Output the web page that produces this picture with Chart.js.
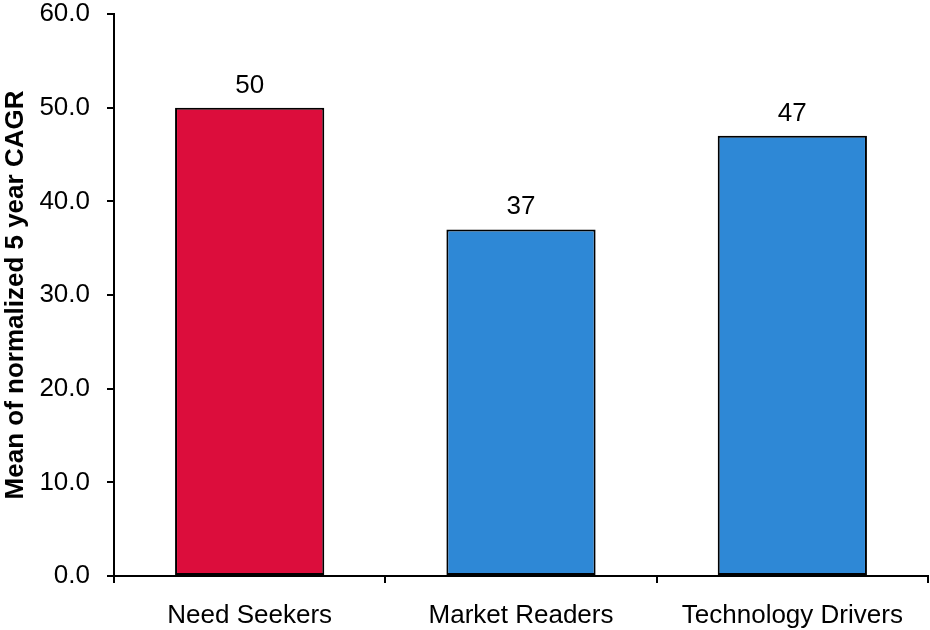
<!DOCTYPE html>
<html lang="en">
<head>
  <meta charset="UTF-8" />
  <title>Mean of normalized 5 year CAGR</title>
  <style>
    html, body {
      margin: 0;
      padding: 0;
      background: #fff;
    }
    .wrap {
      width: 930px;
      height: 630px;
    }
  </style>
</head>
<body>
  <div class="wrap">
    <canvas id="cagrChart" width="930" height="630"></canvas>
  </div>

  <script src="https://cdn.jsdelivr.net/npm/chart.js"></script>
  <script>
    const categories = ['Need Seekers', 'Market Readers', 'Technology Drivers'];
    const cagrMeans = [50, 37, 47];
    const barColors = ['#DC0D3C', '#2E88D6', '#2E88D6'];
    const yTicks = [0, 10, 20, 30, 40, 50, 60];

    // value labels above each bar
    const valueLabels = {
      id: 'valueLabels',
      afterDatasetsDraw(chart) {
        const ctx = chart.ctx;
        const meta = chart.getDatasetMeta(0);
        ctx.save();
        ctx.font = '26px "Liberation Sans", Arial, sans-serif';
        ctx.fillStyle = '#000';
        ctx.textAlign = 'center';
        ctx.textBaseline = 'alphabetic';
        meta.data.forEach((bar, i) => {
          ctx.fillText(String(cagrMeans[i]), bar.x, bar.y - 15);
        });
        ctx.restore();
      }
    };

    Chart.defaults.font.family = '"Liberation Sans", Arial, sans-serif';
    Chart.defaults.color = '#000';

    new Chart(document.getElementById('cagrChart').getContext('2d'), {
      type: 'bar',
      data: {
        labels: categories,
        datasets: [{
          data: cagrMeans,
          backgroundColor: barColors,
          borderColor: '#000',
          borderWidth: 2,
          borderSkipped: false,
          categoryPercentage: 0.55,
          barPercentage: 1.0
        }]
      },
      options: {
        responsive: false,
        animation: false,
        layout: {
          padding: { top: 14, right: 2, left: 0, bottom: 0 }
        },
        plugins: {
          legend: { display: false },
          tooltip: { enabled: false }
        },
        scales: {
          x: {
            grid: {
              offset: true,
              drawOnChartArea: false,
              drawTicks: true,
              tickLength: 7,
              color: '#000',
              lineWidth: 2
            },
            border: { display: true, color: '#000', width: 2 },
            ticks: {
              font: { size: 26 },
              padding: 17,
              maxRotation: 0
            },
            afterFit(scale) { scale.height = 54; }
          },
          y: {
            min: 0,
            max: 60,
            afterBuildTicks(scale) {
              scale.ticks = yTicks.map(v => ({ value: v }));
            },
            grid: {
              drawOnChartArea: false,
              drawTicks: true,
              tickLength: 7,
              color: '#000',
              lineWidth: 2
            },
            border: { display: true, color: '#000', width: 2 },
            ticks: {
              font: { size: 26 },
              padding: 17,
              callback: v => Number(v).toFixed(1)
            },
            title: {
              display: true,
              text: 'Mean of normalized 5 year CAGR',
              font: { size: 26, weight: 'bold' },
              padding: { top: 0, bottom: 0 }
            },
            afterFit(scale) {
              scale.width = 114;
              // let the top tick label overhang the plot edge
              scale.paddingTop = 0;
              scale.paddingBottom = 0;
            }
          }
        }
      },
      plugins: [valueLabels]
    });
  </script>
</body>
</html>
